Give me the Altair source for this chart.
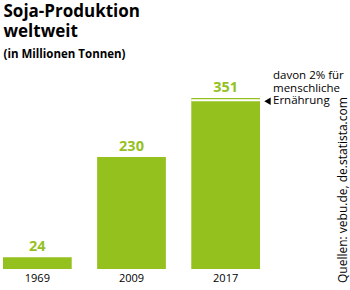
import altair as alt
import pandas as pd

years = ["1969", "2009", "2017"]
production = [24, 230, 351]
human_share_pct = 2
title_lines = ["Soja-Produktion", "weltweit"]
subtitle = "(in Millionen Tonnen)"
note_lines = ["davon 2% für", "menschliche", "Ernährung"]
source = "Quellen: vebu.de, de.statista.com"

GREEN = "#95c11f"
FONT = "Open Sans, Noto Sans, DejaVu Sans, sans-serif"

split = production[-1] * (1 - human_share_pct / 100)
df = pd.DataFrame({"year": years, "value": production})
last = pd.DataFrame({"year": [years[-1]], "value": [split],
                     "value2": [split + 4]})
one = pd.DataFrame({"k": [1]})

x = alt.X("year:N", sort=years,
          scale=alt.Scale(paddingInner=0.27, paddingOuter=0),
          axis=alt.Axis(title=None, domain=False, ticks=False, labelAngle=0,
                        labelPadding=3, labelFontSize=11, labelFont=FONT,
                        labelColor="#000000"))
y = alt.Y("value:Q", scale=alt.Scale(domain=[0, 400]), axis=None)

base = alt.Chart(df)
bars = base.mark_bar(color=GREEN).encode(x=x, y=y)
labels = base.mark_text(dy=-6, baseline="alphabetic", fontSize=14.5,
                        fontWeight="bold", font=FONT, color=GREEN).encode(
    x=x, y=y, text="value:Q")

gap = alt.Chart(last).mark_bar(color="white").encode(
    x=x, y=y, y2="value2:Q")
arrow = alt.Chart(last).mark_point(shape="triangle-left", filled=True,
                                   color="#000000", opacity=1, size=55).encode(
    x=alt.value(264.5), y=y)


def txt(s, xv, yv, **kw):
    return alt.Chart(one).mark_text(align="left", baseline="alphabetic",
                                    font=FONT, color="#000000", **kw).encode(
        x=alt.value(xv), y=alt.value(yv), text=alt.value(s))


layers = [bars, gap, labels, arrow]
for i, line in enumerate(note_lines):
    layers.append(txt(line, 270, 5 + 12.5 * i, fontSize=11.5))
for i, line in enumerate(title_lines):
    layers.append(txt(line, 0.5, -57 + 20 * i, fontSize=17, fontWeight="bold"))
layers.append(txt(subtitle, 0.5, -16, fontSize=11.5, fontWeight="bold"))
layers.append(txt(source, 344, 209, fontSize=12, angle=270))

chart = alt.layer(*layers).properties(
    width=257, height=195,
    padding={"left": 3, "top": 74, "right": 90, "bottom": 21},
    autosize=alt.AutoSizeParams(type="none"), background="white",
).configure_view(strokeWidth=0)

chart.save("out.html", embed_options={"renderer": "svg", "actions": False})
